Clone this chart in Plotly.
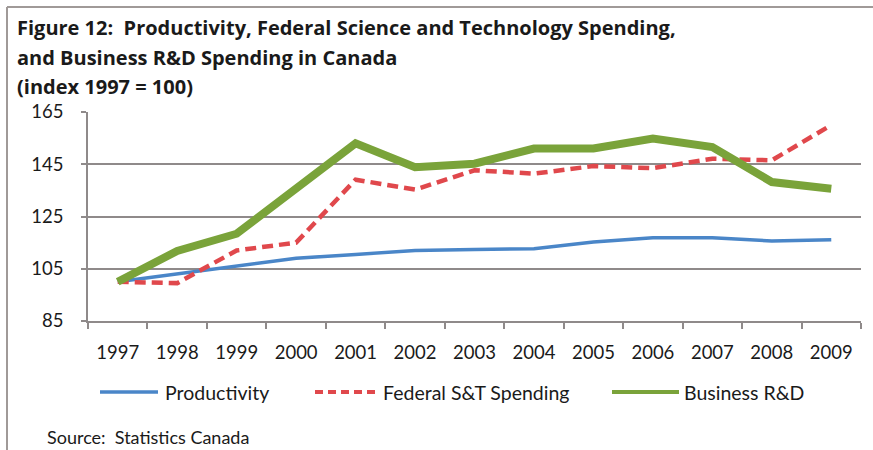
import plotly.graph_objects as go

# Data: index values, 1997 = 100
years = ["1997", "1998", "1999", "2000", "2001", "2002", "2003",
         "2004", "2005", "2006", "2007", "2008", "2009"]
productivity = [100, 103, 106, 109, 110.5, 112, 112.4, 112.7, 115.2, 116.9, 116.9, 115.6, 116.1]
federal_st = [100, 99.5, 112, 115, 139.1, 135.3, 142.7, 141.4, 144.3, 143.5, 147.1, 146.5, 160]
business_rd = [100, 111.8, 118.4, 135.5, 153, 143.9, 145.2, 151, 151, 154.8, 151.6, 138.2, 135.6]

series_names = ["Productivity", "Federal S&T Spending", "Business R&D"]
y_ticks = [85, 105, 125, 145, 165]

title_lines = [
    "Figure 12:  Productivity, Federal Science and Technology Spending,",
    "and Business R&D Spending in Canada",
    "(index 1997 = 100)",
]
source_text = "Source:  Statistics Canada"

W, H = 873, 450
L, R, T, B = 88, 861, 112, 321

FONT = "Lato"
TITLE_FONT = "Open Sans"
TXT = "#1a1a1a"
GRID = "#8f8a8a"
BLUE = "#4a86c8"
RED = "#e0484c"
GREEN = "#7aa33a"


def px(x):
    return (x - L) / (R - L)


def py(y):
    return (B - y) / (B - T)


styles = [
    dict(color=BLUE, width=3.5),
    dict(color=RED, width=4.5, dash="11px,6px"),
    dict(color=GREEN, width=8),
]

fig = go.Figure()
for name, vals, st in zip(series_names, [productivity, federal_st, business_rd], styles):
    fig.add_trace(go.Scatter(x=years, y=vals, name=name, mode="lines",
                             line=st, showlegend=False))

shapes = []
annotations = []

# outer frame (top and left edges)
shapes.append(dict(type="line", xref="paper", yref="paper",
                   x0=px(7), x1=px(W + 5), y0=py(7), y1=py(7),
                   line=dict(color="#a09a98", width=2)))
shapes.append(dict(type="line", xref="paper", yref="paper",
                   x0=px(7), x1=px(7), y0=py(7), y1=py(H + 5),
                   line=dict(color="#a09a98", width=2)))

# title
for i, line in enumerate(title_lines):
    annotations.append(dict(text="<b>" + line + "</b>", xref="paper", yref="paper",
                            x=px(15), y=py(28 + 29.5 * i), xanchor="left", yanchor="middle",
                            showarrow=False, font=dict(family=TITLE_FONT, size=20, color=TXT)))

# legend
legend_pos = [(100, 158, 163), (315, 379, 381), (612, 679, 682)]
leg_y = 392
for name, st, (x0, x1, tx) in zip(series_names, styles, legend_pos):
    lst = dict(color=st["color"], width=min(st["width"], 4))
    if "dash" in st:
        lst["dash"] = "8px,5px"
    shapes.append(dict(type="line", xref="paper", yref="paper",
                       x0=px(x0), x1=px(x1), y0=py(leg_y), y1=py(leg_y), line=lst))
    annotations.append(dict(text=name, xref="paper", yref="paper",
                            x=px(tx), y=py(leg_y), xanchor="left", yanchor="middle",
                            showarrow=False, font=dict(family=FONT, size=19.5, color=TXT)))

# source note
annotations.append(dict(text=source_text, xref="paper", yref="paper",
                        x=px(45), y=py(437), xanchor="left", yanchor="middle",
                        showarrow=False, font=dict(family=FONT, size=18, color=TXT)))

fig.update_layout(
    width=W, height=H,
    margin=dict(l=L, r=W - R, t=T, b=H - B, pad=0),
    paper_bgcolor="white", plot_bgcolor="white",
    shapes=shapes, annotations=annotations,
    font=dict(family=FONT, color=TXT),
    xaxis=dict(type="category", range=[-0.5, 12.5], tickson="boundaries",
               ticks="outside", ticklen=6, tickcolor=GRID, tickwidth=1.5,
               showline=True, linecolor=GRID, linewidth=1.5, showgrid=False,
               tickfont=dict(family=FONT, size=18.5, color=TXT),
               ticklabelstandoff=14),
    yaxis=dict(range=[85, 165], tickvals=y_ticks, ticks="outside", ticklen=5,
               tickcolor=GRID, tickwidth=1.5, showline=True, linecolor=GRID,
               linewidth=1.5, showgrid=True, gridcolor=GRID, gridwidth=1.5,
               zeroline=False, tickfont=dict(family=FONT, size=18.5, color=TXT),
               ticklabelstandoff=14),
)

fig.write_html("out.html")
